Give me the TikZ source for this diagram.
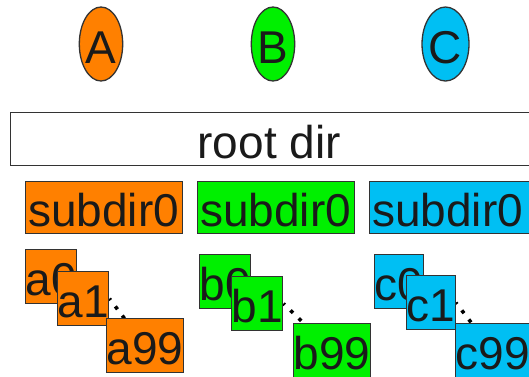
\documentclass[tikz,border=0pt]{standalone}
\usepackage{fontspec}
\setmainfont{Liberation Sans}
\usetikzlibrary{shapes.geometric,backgrounds}

\definecolor{fillA}{RGB}{255,128,0}
\definecolor{fillB}{RGB}{0,240,0}
\definecolor{fillC}{RGB}{0,191,243}
\definecolor{edge}{RGB}{51,51,51}
\definecolor{ink}{RGB}{26,26,26}

\tikzset{
  every node/.style={font=\fontsize{46}{48}\selectfont, text=ink,
    text height=38pt, text depth=0pt, inner sep=0pt},
  userdisk/.style={ellipse, draw=edge, line width=1.3pt,
    minimum width=#1, minimum height=74pt},
  box/.style={rectangle, draw=edge, line width=1.3pt, anchor=north west},
  itembox/.style 2 args={box, fill=#1, minimum width=#2, minimum height=54pt},
  subbox/.style 2 args={box, fill=#1, text width=#2, align=left,
    inner xsep=2.5pt, minimum height=52pt},
  dotline/.style={draw=black, line width=3.6pt, line cap=butt,
    dash pattern=on 3.6pt off 7.9pt, dash phase=1.8pt},
}

\begin{document}
\begin{tikzpicture}[x=1pt, y=-1pt]
\useasboundingbox (0,0) rectangle (529,376);
\clip (0,0) rectangle (529,376);

% user nodes
\node[userdisk=42pt, fill=fillA] (uA) at (101,44) {A};
\node[userdisk=42pt, fill=fillB] (uB) at (273,44) {B};
\node[userdisk=45pt, fill=fillC] (uC) at (445.5,44) {C};

% root directory, running past the right edge
\node[box, fill=white, minimum width=530pt, minimum height=53pt] (root) at (10,112) {\hspace*{-13pt}root dir};

% per-user subdirectories
\node[subbox={fillA}{152pt}] (sA) at (25,181) {subdir0};
\node[subbox={fillB}{152pt}] (sB) at (197,181) {subdir0};
\node[subbox={fillC}{165pt}] (sC) at (369,181) {subdir0};

% files of user A
\node[itembox={fillA}{49pt}] (a0) at (25,249) {a0};
\node[itembox={fillA}{49pt}] (a1) at (57,271) {a1};
\node[itembox={fillA}{73pt}] (a99) at (106,318) {a99};

% files of user B
\node[itembox={fillB}{50pt}] (b0) at (199,254) {b0};
\node[itembox={fillB}{50pt}] (b1) at (231,276) {b1};
\node[itembox={fillB}{73pt}] (b99) at (293,323) {b99};

% files of user C
\node[itembox={fillC}{47pt}] (c0) at (374,254) {c0};
\node[itembox={fillC}{46pt}] (c1) at (406,275) {c1};
\node[itembox={fillC}{70pt}] (c99) at (455,323) {c99};

% elided files between the second and the last one
\begin{scope}[on background layer]
  \draw[dotline] (a1.east) -- (a99.center);
  \draw[dotline] (b1.east) -- (b99.center);
  \draw[dotline] (c1.east) -- (c99.center);
\end{scope}
\end{tikzpicture}
\end{document}
